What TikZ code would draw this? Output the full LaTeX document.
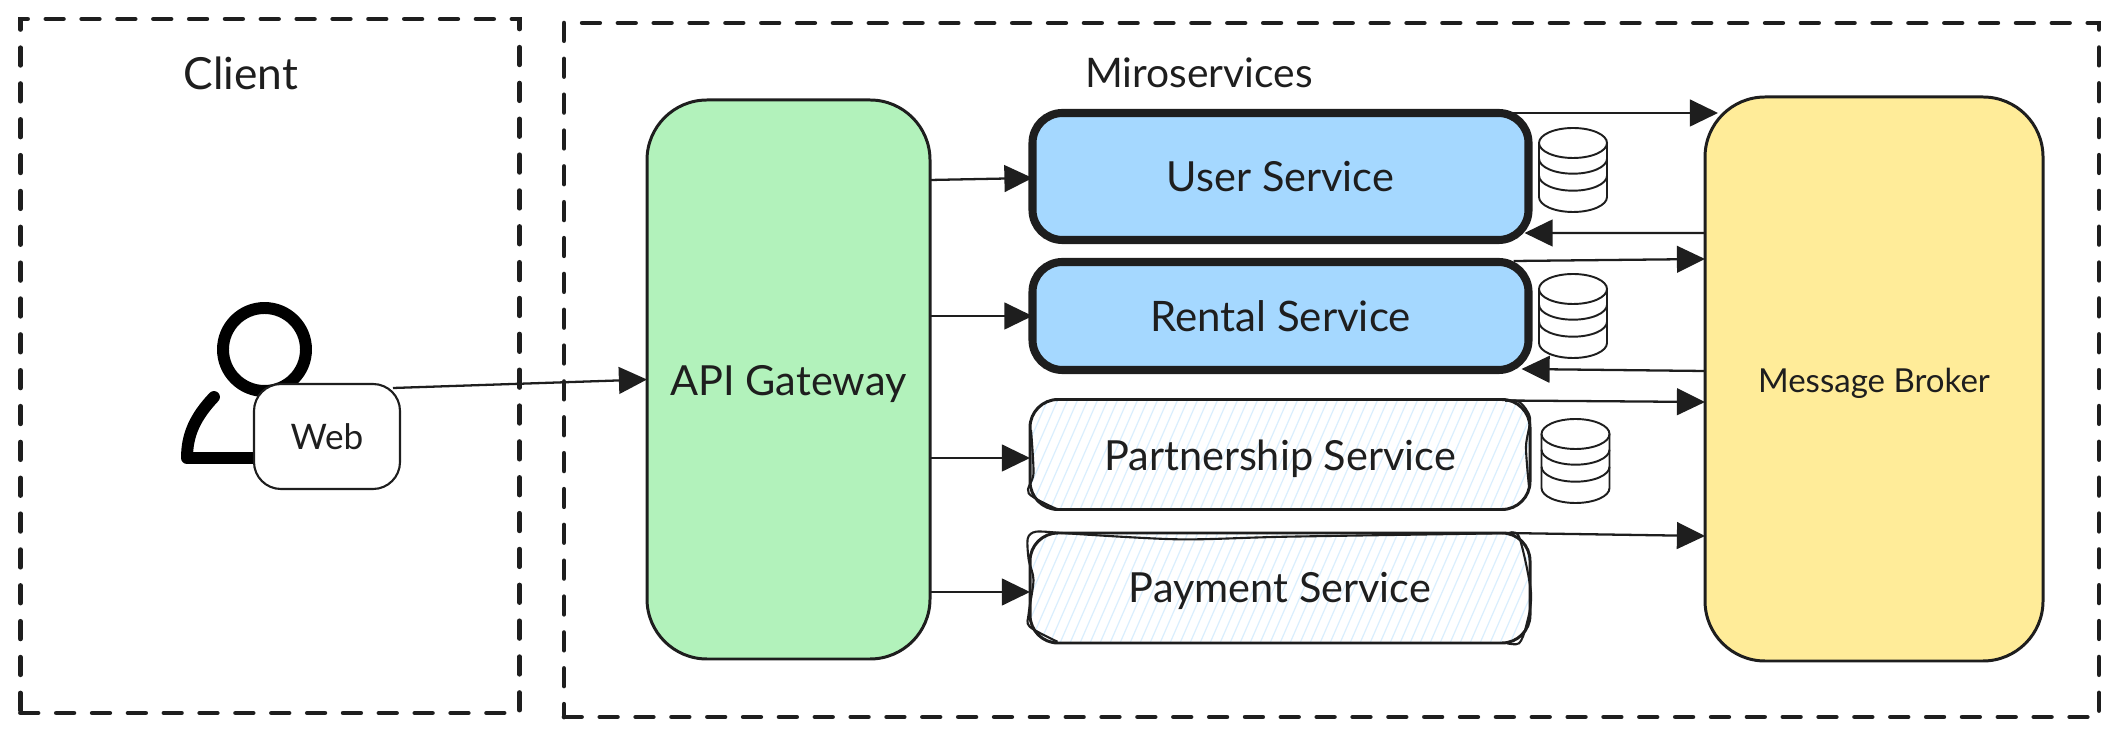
\documentclass[tikz,border=0pt]{standalone}
\usepackage{fontspec}
\setmainfont{Lato}
\usetikzlibrary{arrows.meta}
\definecolor{ink}{HTML}{1E1E1E}
\definecolor{gatewaygreen}{HTML}{B2F2BB}
\definecolor{serviceblue}{HTML}{A5D8FF}
\definecolor{brokeryellow}{HTML}{FFEC99}
\definecolor{hatchblue}{HTML}{DAEEFD}

\begin{document}
\begin{tikzpicture}[x=1cm, y=-1cm, >={Triangle[length=8pt,width=7.6pt]}, font=\fontsize{11.8}{13}\selectfont, text=ink,
		box/.style={rectangle, draw=ink, line width=.85pt, outer sep=0pt, align=center},
		zone/.style={box, line width=1.35pt, line cap=round, dash pattern=on 5pt off 5.2pt},
		service/.style={box, fill=serviceblue, line width=2.3pt, minimum width=4.96cm, rounded corners=.3cm},
		sketched/.style={box, minimum width=5.0cm, minimum height=1.1cm, rounded corners=.28cm, path picture={
			\foreach \s in {-1,-.9,...,5.4}
				\draw[hatchblue, line width=.35pt] ([xshift=\s cm]path picture bounding box.south west) -- ++(.5,-1.15);}},
		wobble/.style={draw=ink, line width=.6pt},
		conn/.style={->, draw=ink, line width=.65pt},
		dbstack/.pic={
			\draw[ink, line width=.55pt, fill=white] (-.34,-.27) -- (-.34,.27) arc[start angle=180, end angle=360, x radius=.34cm, y radius=.15cm] -- (.34,-.27);
			\draw[ink, line width=.55pt] (0,-.27) ellipse (.34cm and .15cm);
			\foreach \y in {-.113,.057}
				\draw[ink, line width=.55pt] (-.34,\y) arc[start angle=180, end angle=360, x radius=.34cm, y radius=.15cm];
		}]
	\useasboundingbox (0,0) rectangle (21.19,7.37);
	% ---------------- zones ----------------
	\node[zone, minimum width=4.99cm, minimum height=6.94cm] (client) at (2.70,3.66) {};
	\node[zone, minimum width=15.35cm, minimum height=6.94cm] (micro) at (13.315,3.70) {};
	\node[font=\fontsize{12.6}{14}\selectfont] (clientlabel) at (2.41,.73) {Client};
	\node[font=\fontsize{11.6}{13}\selectfont] (microlabel) at (11.99,.73) {Miroservices};
	% ---------------- user ----------------
	\node[circle, draw=black, line width=3.4pt, minimum size=.83cm, outer sep=0pt] (head) at (2.645,3.495) {};
	\draw[black, line width=3.4pt, line cap=round, line join=round] (2.14,3.97) .. controls (1.95,4.17) and (1.87,4.35) .. (1.87,4.58) -- (2.60,4.58);
	\node[box, fill=white, line width=.6pt, minimum width=1.46cm, minimum height=1.05cm, rounded corners=.27cm, font=\fontsize{10}{12}\selectfont] (web) at (3.27,4.365) {Web};
	% ---------------- gateway and broker ----------------
	\node[box, fill=gatewaygreen, minimum width=2.83cm, minimum height=5.59cm, rounded corners=.6cm, text height=10.9pt] (gateway) at (7.885,3.795) {API Gateway};
	\node[box, fill=brokeryellow, minimum width=3.38cm, minimum height=5.64cm, rounded corners=.6cm, font=\fontsize{9.4}{11}\selectfont, text height=9.3pt] (broker) at (18.74,3.79) {Message Broker};
	% ---------------- services ----------------
	\node[service, minimum height=1.27cm] (user) at (12.805,1.765) {User Service};
	\node[service, minimum height=1.08cm, font=\fontsize{11.95}{14}\selectfont] (rental) at (12.805,3.16) {Rental Service};
	\node[sketched, text height=10.9pt] (partner) at (12.80,4.545) {Partnership Service};
	\node[sketched, text height=10.1pt] (payment) at (12.80,5.88) {Payment Service};
	% hand drawn strokes over the two sketched boxes
	\draw[wobble] plot[smooth] coordinates {(15.05,4.007) (15.19,4.017) (15.30,4.18) (15.26,4.467) (15.29,4.867)};
	\draw[wobble] plot[smooth] coordinates {(10.31,4.30) (10.335,4.733) (10.287,4.933) (10.574,5.093)};
	\draw[wobble] plot[smooth] coordinates {(10.574,5.327) (10.359,5.317) (10.278,5.383) (10.287,5.60) (10.335,5.80) (10.287,6.133) (10.297,6.267) (10.574,6.417)};
	\draw[wobble] plot[smooth] coordinates {(10.574,5.327) (11.77,5.393) (12.87,5.367) (15.02,5.333)};
	\draw[wobble] plot[smooth] coordinates {(15.07,5.34) (15.19,5.367) (15.31,5.93) (15.26,6.267) (15.19,6.433) (15.07,6.433)};
	% ---------------- databases ----------------
	\pic (userdb) at (15.73,1.70) {dbstack};
	\pic (rentaldb) at (15.73,3.16) {dbstack};
	\pic (partnerdb) at (15.755,4.61) {dbstack};
	% ---------------- connectors ----------------
	\draw[conn] ([shift={(-.07,.04)}]web.north east) -- (gateway.west);
	\draw[conn] ([shift={(0,.035)}]gateway.east |- user.west) -- ([shift={(0,.015)}]user.west);
	\draw[conn] (gateway.east |- rental.west) -- (rental.west);
	\draw[conn] ([shift={(0,.035)}]gateway.east |- partner.west) -- ([shift={(0,.035)}]partner.west);
	\draw[conn] ([shift={(0,.04)}]gateway.east |- payment.west) -- ([shift={(0,.04)}]payment.west);
	\draw[conn] ([shift={(-.2,0)}]user.north east) -- ([shift={(.13,0)}]broker.west |- user.north east);
	\draw[conn] (broker.west |- 0,2.33) -- ([shift={(-.04,-.07)}]user.south east);
	\draw[conn] ([shift={(-.15,-.01)}]rental.north east) -- (broker.west |- 0,2.59);
	\draw[conn] (broker.west |- 0,3.71) -- ([shift={(-.07,-.01)}]rental.south east);
	\draw[conn] ([shift={(-.25,.01)}]partner.north east) -- (broker.west |- 0,4.02);
	\draw[conn] ([shift={(-.25,.0)}]payment.north east) -- (broker.west |- 0,5.36);
\end{tikzpicture}
\end{document}
